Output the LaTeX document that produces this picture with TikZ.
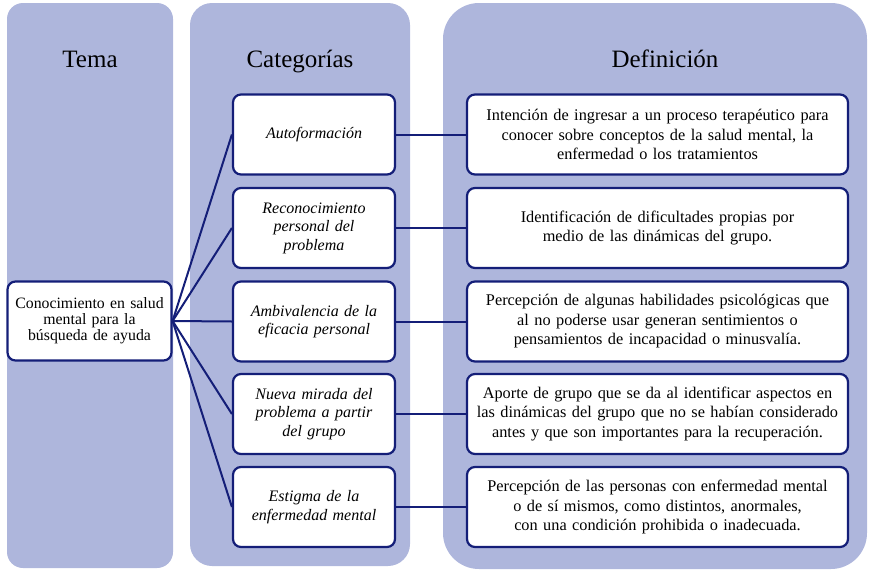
\documentclass[tikz,border=0pt]{standalone}
\usepackage{fontspec}
\setmainfont{Liberation Serif}
\usepackage{tikz}
\usetikzlibrary{positioning}
\usepackage{xcolor}
\definecolor{colbg}{RGB}{174,182,220}
\definecolor{navy}{RGB}{20,30,120}

\tikzset{
  title/.style={font=\rmfamily\fontsize{25}{28}\selectfont, anchor=base},
  box/.style={draw=navy, line width=2.2pt, fill=white, rounded corners=8pt, align=center, inner sep=2pt},
  catbox/.style={box, minimum width=162pt, minimum height=80pt, text width=150pt, font=\rmfamily\itshape\fontsize{16}{18.5}\selectfont},
  defbox/.style={box, minimum width=381pt, minimum height=80pt, text width=370pt, font=\rmfamily\fontsize{16.3}{19.5}\selectfont},
  link/.style={draw=navy, line width=2pt}
}

\begin{document}
\begin{tikzpicture}[x=1pt,y=-1pt]
  \useasboundingbox (0,0) rectangle (870,573);
  % columns
  \fill[colbg, rounded corners=16pt] (7,3) rectangle (173,568);
  \fill[colbg, rounded corners=22pt] (190,3) rectangle (410,566);
  \fill[colbg, rounded corners=36pt] (443,3) rectangle (867,569);
  \node[title] (tTema) at (90,67) {Tema};
  \node[title] (tCat) at (300,67) {Categorías};
  \node[title] (tDef) at (665,67) {Definición};
  % tema
  \node[box, minimum width=163pt, minimum height=79pt, text width=160pt, font=\rmfamily\fontsize{15.8}{16}\selectfont] (tema) at (89.5,321) {Conocimiento en salud\\ mental para la\\ búsqueda de ayuda};
  % categorias
  \node[catbox] (c1) at (314,134.5) {Autoformación};
  \node[catbox] (c2) at (314,228) {Reconocimiento\\ personal del\\ problema};
  \node[catbox] (c3) at (314,321.5) {Ambivalencia de la\\ eficacia personal};
  \node[catbox] (c4) at (314,414) {Nueva mirada del\\ problema a partir\\ del grupo};
  \node[catbox] (c5) at (314,507) {Estigma de la\\ enfermedad mental};
  % definiciones
  \node[defbox] (d1) at (657.5,134.5) {Intención de ingresar a un proceso terapéutico para\\ conocer sobre conceptos de la salud mental, la\\ enfermedad o los tratamientos};
  \node[defbox] (d2) at (657.5,228) {Identificación de dificultades propias por\\ medio de las dinámicas del grupo.};
  \node[defbox] (d3) at (657.5,321.5) {Percepción de algunas habilidades psicológicas que\\ al no poderse usar generan sentimientos o\\ pensamientos de incapacidad o minusvalía.};
  \node[defbox] (d4) at (657.5,414) {Aporte de grupo que se da al identificar aspectos en\\ las dinámicas del grupo que no se habían considerado\\ antes y que son importantes para la recuperación.};
  \node[defbox] (d5) at (657.5,507) {Percepción de las personas con enfermedad mental\\ o de sí mismos, como distintos, anormales,\\ con una condición prohibida o inadecuada.};
  % enlaces
  \draw[link] (tema.east) -- (c1.west);
  \draw[link] (tema.east) -- (c2.west);
  \draw[link] (tema.east) -- (c3.west);
  \draw[link] (tema.east) -- (c4.west);
  \draw[link] (tema.east) -- (c5.west);
  \draw[link] (c1.east) -- (d1.west);
  \draw[link] (c2.east) -- (d2.west);
  \draw[link] (c3.east) -- (d3.west);
  \draw[link] (c4.east) -- (d4.west);
  \draw[link] (c5.east) -- (d5.west);
\end{tikzpicture}
\end{document}
